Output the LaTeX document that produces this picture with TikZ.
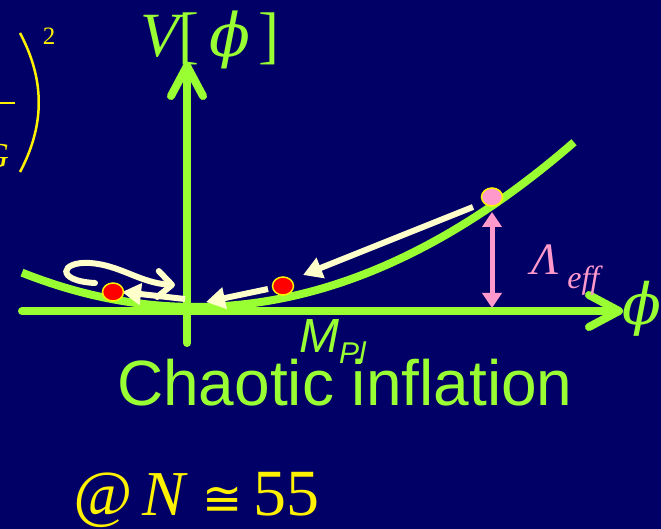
\documentclass[tikz,border=0pt]{standalone}
\usepackage{fontspec}
\setmainfont{Liberation Serif}
\newfontfamily\arialfont{Liberation Sans}
\newfontfamily\dvserif{DejaVu Serif}
\newfontfamily\dvsans{DejaVu Sans}
\usetikzlibrary{arrows.meta,shapes.geometric}
\definecolor{bgnavy}{RGB}{0,0,102}
\definecolor{lime}{RGB}{153,255,51}
\definecolor{cream}{RGB}{255,255,204}
\definecolor{rose}{RGB}{255,153,204}
\newcommand{\fsz}[1]{\fontsize{#1}{#1}\selectfont}

\begin{document}
\begin{tikzpicture}[x=1pt,y=-1pt,
  axis/.style={lime,line width=8pt,line cap=round,
    -{Straight Barb[length=30pt,width=32pt,round]}},
  pot/.style={lime,line width=8pt},
  roll/.style={cream,line width=6pt,-{Triangle[length=19pt,width=21pt]}},
  swirl/.style={cream,line width=6pt,line cap=round,
    -{Straight Barb[length=14pt,width=26pt,round]}},
  gap/.style={rose,line width=5pt,{Triangle[length=15pt,width=19pt]}-{Triangle[length=15pt,width=19pt]}},
  ball/.style={ellipse,minimum width=21pt,minimum height=18pt,inner sep=0pt,
    draw=yellow,line width=1.5pt}]
  \fill[bgnavy] (0,0) rectangle (661,529);
  \useasboundingbox (0,0) rectangle (661,529);
  \clip (0,0) rectangle (661,529);
  % cut-off formula on the left
  \draw[yellow,line width=2.5pt] (20,33) .. controls (45,80) and (45,125) .. (20,172);
  \draw[yellow,line width=2.5pt] (-2,103) -- (15,103);
  \node[yellow,anchor=base,font=\fsz{25}] (sq) at (49,45) {2};
  \node[yellow,anchor=base east,inner sep=0pt,font=\fsz{35}\itshape] (gg) at (9,168) {G};
  % axes
  \draw[axis] (22,311) -- (623,311);
  \draw[axis] (187,343) -- (187,62);
  \node[lime,anchor=base west,inner sep=0pt,font=\fsz{63}] (vlab) at (140,57)
    {\itshape V\upshape[\hspace{10pt}{\dvserif\itshape\fsz{60}ϕ}\hspace{8pt}]};
  \node[lime,inner sep=0pt,font=\dvserif\itshape\fsz{57}] (philab) at (642,309) {ϕ};
  % potential
  \draw[pot] plot[domain=22:574,samples=80] (\x,{307-11.47*((\x-195)/100)^2});
  % rolling fields
  \coordinate (t1) at (473,207); \coordinate (h1) at (303,275);
  \coordinate (t2) at (268,289); \coordinate (h2) at (206,302);
  \coordinate (t3) at (185,299); \coordinate (h3) at (122,292);
  \draw[roll] (t1) -- (h1);
  \draw[roll] (t2) -- (h2);
  \draw[roll] (t3) -- (h3);
  \draw[swirl] (95,283) .. controls (55,281) and (60,261) .. (90,263)
    .. controls (120,265) and (140,283) .. (175,285);
  \node[ball,fill=red] (b1) at (113,292) {};
  \node[ball,fill=red] (b2) at (283,286) {};
  \node[ball,fill=rose] (b3) at (492,197) {};
  % effective cosmological constant
  \coordinate (lamtop) at (492,212); \coordinate (lambot) at (492,308);
  \draw[gap] (lamtop) -- (lambot);
  \node[rose,anchor=base west,inner sep=0pt,font=\fsz{45}\itshape] (lam) at (531,275)
    {Λ\hspace{9pt}\raisebox{-14pt}{\fsz{32}eff}};
  % labels
  \node[lime,anchor=base west,inner sep=0pt,font=\arialfont\fsz{48}\itshape] (mpl) at (299,352)
    {M\raisebox{-11pt}{\fsz{30}Pl}};
  \node[lime,anchor=base west,inner sep=0pt,font=\arialfont\fsz{64}] (title) at (117,405)
    {Chaotic inflation};
  \node[yellow,anchor=base west,inner sep=0pt,font=\fsz{64}] (efold) at (73,515)
    {\itshape @\,N\upshape\hspace{17pt}{\dvsans\fsz{48}≅}\hspace{11pt}{\fsz{66}55}};
\end{tikzpicture}
\end{document}
